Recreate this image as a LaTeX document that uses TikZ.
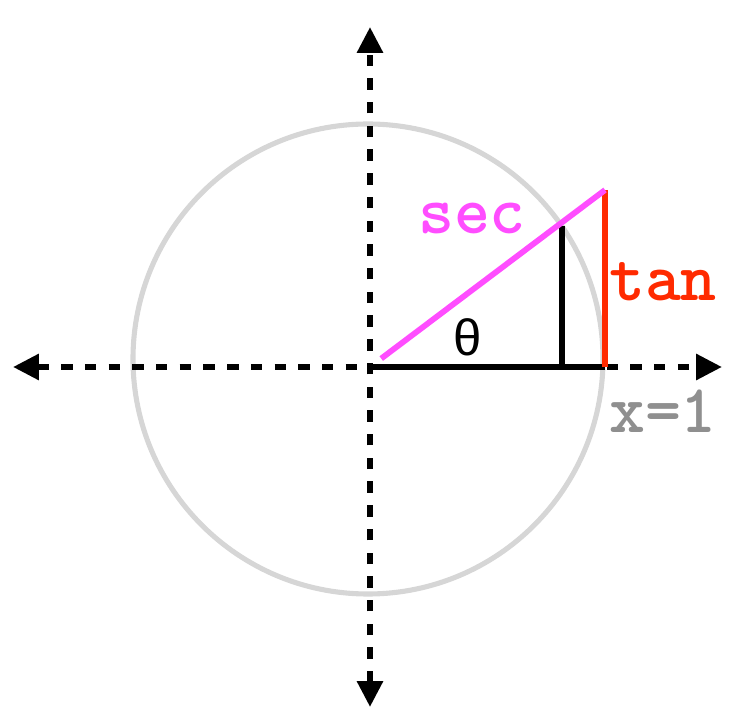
\documentclass[tikz,border=0pt]{standalone}
\usepackage{fontspec}
\newfontfamily\thetafont{Liberation Sans}
\usetikzlibrary{arrows.meta, positioning, calc}
\definecolor{secpink}{HTML}{FF4DFF}
\definecolor{tanred}{HTML}{FF2A00}
\definecolor{circgray}{HTML}{D6D6D6}
\definecolor{labelgray}{HTML}{8F8F8F}

\begin{document}
\begin{tikzpicture}[x=0.02cm, y=0.02cm, line width=3.3pt,
  axis/.style={black, dash pattern=on 6.5pt off 7pt, {Triangle[length=14.7pt, width=14.2pt]}-{Triangle[length=14.7pt, width=14.2pt]}},
  trig/.style={font=\ttfamily\bfseries\fontsize{39}{39}\selectfont, inner sep=0pt}]
\useasboundingbox (-370,-359) rectangle (380,367);
% unit circle and axes
\coordinate (O) at (0,0);
\coordinate (C) at (-2,8);
\coordinate (W) at (-357,0);
\coordinate (E) at (352,0);
\coordinate (N) at (0,340);
\coordinate (S) at (0,-340);
\coordinate (P) at ($(C)+(34.5:235)$);
\coordinate (A) at (235,0);
\coordinate (T) at (235,177);
\draw[circgray, line width=2.9pt] (C) circle (235);
\draw[axis] (W) -- (E);
\draw[axis] (S) -- (N);
% triangle
\draw[black, line cap=butt] (O) -- (A);
\draw[black] (P) -- (P |- O);
\draw[tanred] (T) -- (A);
\draw[secpink, shorten <=8pt] (O) -- (T);
% labels
\node[trig, text=secpink] (seclbl) at (102,149) {sec};
\node[trig, text=tanred] (tanlbl) at (293,85) {tan};
\node[font=\thetafont\fontsize{29}{29}\selectfont, inner sep=0pt] (theta) at (98,30) {θ};
\node[trig, text=labelgray] (xlbl) at (293,-44) {x=1};
\end{tikzpicture}
\end{document}
